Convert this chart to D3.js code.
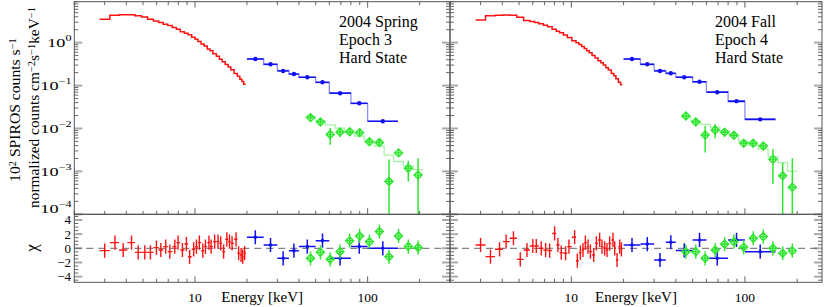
<!DOCTYPE html>
<html><head><meta charset="utf-8">
<script src="https://cdn.jsdelivr.net/npm/d3@7"></script>
<style>
body{margin:0;background:#fff}
text{font-family:"Liberation Serif","Times New Roman",serif;fill:#000}
</style>
</head><body>
<svg id="c" width="830" height="307" xmlns="http://www.w3.org/2000/svg"></svg>
<script>
// ---------------- DATA ----------------
const xTickLabels = ["10", "100"];
const yTickExps = [0, -1, -2, -3, -4];
const chiTickLabels = [4, 2, 0, -2, -4];
const titles3 = ["2004 Spring", "Epoch 3", "Hard State"];
const titles4 = ["2004 Fall", "Epoch 4", "Hard State"];

// Epoch 3 (left)
const redE3 = [3.0,3.44,3.84,4.29,4.69,5.12,5.52,5.98,6.34,6.77,7.15,7.64,7.98,8.46,8.92,9.31,9.83,10.2,10.6,11.1,11.5,12.05,12.4,13.0,13.6,14.1,14.65,15.3,15.85,16.4,17.3,17.9,18.5,18.9,19.4];
const redF3 = [3.5,4.35,4.49,4.49,4.26,3.95,3.5,3.2,2.95,2.7,2.5,2.25,2.05,1.8,1.65,1.52,1.33,1.2,1.07,0.93,0.83,0.71,0.65,0.55,0.48,0.41,0.36,0.31,0.27,0.235,0.19,0.165,0.14,0.125,0.107];
const redChi3 = [-0.33,0.8,-0.24,0.8,-0.57,-0.57,-0.57,0.1,-0.24,0.24,-0.47,0.24,0.8,-0.24,0.6,-1.2,-0.14,0.24,0.8,-0.33,0.24,0.8,0.24,0.94,0.94,0.7,-0.47,1.27,0.94,0.7,1.27,-0.7,-0.94,-1.18,-0.7];

const blueEdges = [20,25,30,35,40,50,60,80,100,150];
const blueF3 = [0.417,0.314,0.219,0.186,0.156,0.119,0.066,0.0386,0.0147];
const blueM3 = [0.41,0.31,0.225,0.185,0.155,0.117,0.068,0.038,0.0147];
const blueErr3 = [0.012,0.01,0.008,0.007,0.006,0.005,0.004,0.0025,0.0012];
const blueChi3 = [1.56,0.47,-1.42,-0.33,0.24,1.08,-1.42,0.24,0];

const greenE3 = [46.7,53.3,60.7,69.2,78.7,89.9,102.4,117,133,151,172,196];
const greenF3 = [0.0179,0.0142,0.0072,0.0083,0.0084,0.0080,0.0049,0.0047,0.00058,0.0027,0.00118,0.00082];
const greenErr3 = [0.0015,0.0015,0.003,0.002,0.001,0.001,0.0007,0.0006,0.0013,0.0005,0.0006,0.0012];
const greenM3 = [0.0190,0.0150,0.0121,0.0102,0.0080,0.0066,0.0050,0.0039,0.0024,0.0017,0.00135,0.0011];
const greenChi3 = [-1.42,-0.57,-1.56,-0.47,1.08,1.75,0.94,2.36,-1.18,1.75,0.24,0.1];

// Epoch 4 (right)
const redE4 = [3.0,3.42,3.86,4.21,4.64,5.08,5.55,6.0,6.28,6.71,7.11,7.5,8.01,8.37,8.75,9.27,9.69,10.45,10.83,11.27,11.67,12.05,12.48,12.88,13.46,13.94,14.56,15.02,15.56,16.05,16.63,17.38,17.78,18.34,19.0,19.43];
const redF4 = [3.38,4.26,4.35,4.4,4.35,3.9,3.3,3.1,2.95,2.75,2.55,2.36,2.05,1.85,1.7,1.5,1.32,1.1,1.0,0.9,0.81,0.73,0.65,0.58,0.5,0.44,0.38,0.34,0.3,0.26,0.23,0.19,0.17,0.145,0.12,0.105];
const redChi4 = [0.47,-1.18,-0.14,0.94,1.42,-1.56,-0.24,0.33,0.33,0,-0.24,-0.33,2.1,0.47,-0.61,-0.7,0.24,1.56,-1.75,-0.61,-0.24,0.8,0.24,-0.47,-0.94,0.7,1.18,0.24,0,-0.24,0.7,1.18,0,-1.65,0.24,-0.14];

const blueF4 = [0.417,0.314,0.219,0.194,0.156,0.123,0.0697,0.0433,0.0163];
const blueM4 = [0.41,0.31,0.225,0.19,0.157,0.12,0.072,0.042,0.0165];
const blueErr4 = [0.012,0.01,0.008,0.007,0.006,0.005,0.004,0.0025,0.0012];
const blueChi4 = [0.47,0.6,-1.65,0.85,-0.3,1.18,-1.42,1.18,-0.47];

const greenE4 = [45.7,52.1,59,67.4,76.4,86.4,98.4,111.7,127.6,145,165,187.5];
const greenF4 = [0.0196,0.0142,0.00706,0.00923,0.00815,0.00694,0.00452,0.00452,0.00391,0.00191,0.000794,0.000426];
const greenErr4 = [0.0015,0.0015,0.0043,0.0033,0.0010,0.0010,0.0007,0.0007,0.0006,0.0014,0.0008,0.0016];
const greenM4 = [0.0190,0.0150,0.0125,0.0107,0.0088,0.0068,0.0050,0.0041,0.0033,0.0022,0.0016,0.0010];
const greenChi4 = [-0.47,-0.47,-1.42,-0.24,0.57,0.94,0.14,1.42,1.65,0,-0.7,-0.33];

// ---------------- LAYOUT ----------------
const svg = d3.select('#c');
const topY0 = 1.7, topY1 = 214.3, botY1 = 282.3;
const RED = "#ff1010", BLUE = "#1010f0", BLUEM = "#8c8cff", GREEN = "#2ee62e", GREENM = "#a8f2a8";
const FRAME = "#555", TICK = "#666", MAJ = "#aaa";

const y = d3.scaleLog().domain([1e-4, 9]).range([topY1, topY0]);
const yc = d3.scaleLinear().domain([-4.8, 4.8]).range([botY1, topY1]);

const panels = [
  {x0:74.3, x1:450, dom:[2,300], redE:redE3, redF:redF3, redChi:redChi3, blueF:blueF3, blueM:blueM3, blueErr:blueErr3, blueChi:blueChi3,
   greenE:greenE3, greenF:greenF3, greenErr:greenErr3, greenM:greenM3, greenChi:greenChi3, titles:titles3, tx:339, yLabels:true},
  {x0:450, x1:822, dom:[2,278], redE:redE4, redF:redF4, redChi:redChi4, blueF:blueF4, blueM:blueM4, blueErr:blueErr4, blueChi:blueChi4,
   greenE:greenE4, greenF:greenF4, greenErr:greenErr4, greenM:greenM4, greenChi:greenChi4, titles:titles4, tx:715, yLabels:false}
];

function edgesFromCenters(c){
  const e=[c[0]*c[0]/Math.sqrt(c[0]*c[1])];
  for(let i=0;i<c.length-1;i++) e.push(Math.sqrt(c[i]*c[i+1]));
  const n=c.length; e.push(c[n-1]*c[n-1]/Math.sqrt(c[n-2]*c[n-1]));
  return e;
}
function stepPath(x, yy, edges, vals){
  let p=`M${x(edges[0])},${yy(vals[0])}`;
  for(let i=0;i<vals.length;i++){ if(i>0) p+=`V${yy(vals[i])}`; p+=`H${x(edges[i+1])}`; }
  return p;
}
function diamond(g, cx, cy, r, col){
  g.append('path').attr('d',`M${cx},${cy-r}L${cx+r},${cy}L${cx},${cy+r}L${cx-r},${cy}Z M${cx-r},${cy}H${cx+r} M${cx},${cy-r}V${cy+r}`)
   .attr('fill','none').attr('stroke',col).attr('stroke-width',1.4);
}

const defs = svg.append('defs');

panels.forEach((P, pi) => {
  const x = d3.scaleLog().domain(P.dom).range([P.x0, P.x1]);
  defs.append('clipPath').attr('id','ct'+pi).append('rect').attr('x',P.x0).attr('y',topY0).attr('width',P.x1-P.x0).attr('height',topY1-topY0);
  defs.append('clipPath').attr('id','cb'+pi).append('rect').attr('x',P.x0).attr('y',topY1).attr('width',P.x1-P.x0).attr('height',botY1-topY1);

  // ---------- ticks ----------
  const tg = svg.append('g');
  x.ticks().forEach(v => {
    const lg = Math.abs(Math.log10(v)-Math.round(Math.log10(v)))<1e-9;
    const L = lg?6:3.5, px = x(v);
    [[topY0,1],[topY1,-1],[botY1,-1]].forEach(([yy,dir])=>{
      tg.append('line').attr('x1',px).attr('x2',px).attr('y1',yy).attr('y2',yy+dir*L).attr('stroke',TICK).attr('stroke-width',1);
    });
  });
  y.ticks().forEach(v => {
    const lg = Math.abs(Math.log10(v)-Math.round(Math.log10(v)))<1e-9;
    const L = lg?8:4, py = y(v);
    [[P.x0,1],[P.x1,-1]].forEach(([xx,dir])=>{
      tg.append('line').attr('x1',xx).attr('x2',xx+dir*L).attr('y1',py).attr('y2',py)
        .attr('stroke',lg?MAJ:TICK).attr('stroke-width',lg?2:1);
    });
  });
  d3.range(-4.5, 4.51, 0.5).forEach(v => {
    const major = Math.abs(v)%2===0;
    const L = major?8:4, py = yc(v);
    [[P.x0,1],[P.x1,-1]].forEach(([xx,dir])=>{
      tg.append('line').attr('x1',xx).attr('x2',xx+dir*L).attr('y1',py).attr('y2',py)
        .attr('stroke',major?MAJ:TICK).attr('stroke-width',major?2:1);
    });
  });

  // ---------- top panel ----------
  const gt = svg.append('g').attr('clip-path',`url(#ct${pi})`);
  const redEdges = edgesFromCenters(P.redE);
  gt.append('path').attr('d', stepPath(x, y, redEdges, P.redF)).attr('fill','none').attr('stroke',RED).attr('stroke-width',1.5);

  gt.append('path').attr('d', stepPath(x, y, blueEdges, P.blueM)).attr('fill','none').attr('stroke',BLUEM).attr('stroke-width',1.3);
  P.blueF.forEach((f,i)=>{
    const xa=x(blueEdges[i]), xb=x(blueEdges[i+1]), xm=x(Math.sqrt(blueEdges[i]*blueEdges[i+1]));
    gt.append('line').attr('x1',xa).attr('x2',xb).attr('y1',y(f)).attr('y2',y(f)).attr('stroke',BLUE).attr('stroke-width',1.6);
    gt.append('line').attr('x1',xm).attr('x2',xm).attr('y1',y(f-P.blueErr[i])).attr('y2',y(f+P.blueErr[i])).attr('stroke',BLUE).attr('stroke-width',1.4);
    gt.append('circle').attr('cx',xm).attr('cy',y(f)).attr('r',2.2).attr('fill',BLUE);
  });

  const gEdges = edgesFromCenters(P.greenE);
  gt.append('path').attr('d', stepPath(x, y, gEdges, P.greenM)).attr('fill','none').attr('stroke',GREENM).attr('stroke-width',1.3);
  P.greenF.forEach((f,i)=>{
    const xm=x(P.greenE[i]);
    gt.append('line').attr('x1',xm).attr('x2',xm).attr('y1',y(Math.max(f-P.greenErr[i],1e-7))).attr('y2',y(f+P.greenErr[i])).attr('stroke',GREEN).attr('stroke-width',1.5);
    diamond(gt, xm, y(f), 4, GREEN);
  });

  // ---------- residual panel ----------
  const gb = svg.append('g').attr('clip-path',`url(#cb${pi})`);
  gb.append('line').attr('x1',P.x0).attr('x2',P.x1).attr('y1',yc(0)).attr('y2',yc(0))
    .attr('stroke','#666').attr('stroke-width',1).attr('stroke-dasharray','7,5');
  P.redChi.forEach((c,i)=>{
    const xm=x(P.redE[i]);
    gb.append('line').attr('x1',x(redEdges[i])).attr('x2',x(redEdges[i+1])).attr('y1',yc(c)).attr('y2',yc(c)).attr('stroke',RED).attr('stroke-width',1.4);
    gb.append('line').attr('x1',xm).attr('x2',xm).attr('y1',yc(c-1)).attr('y2',yc(c+1)).attr('stroke',RED).attr('stroke-width',1.4);
  });
  P.blueChi.forEach((c,i)=>{
    const xm=x(Math.sqrt(blueEdges[i]*blueEdges[i+1]));
    gb.append('line').attr('x1',x(blueEdges[i])).attr('x2',x(blueEdges[i+1])).attr('y1',yc(c)).attr('y2',yc(c)).attr('stroke',BLUE).attr('stroke-width',1.5);
    gb.append('line').attr('x1',xm).attr('x2',xm).attr('y1',yc(c-1)).attr('y2',yc(c+1)).attr('stroke',BLUE).attr('stroke-width',1.5);
    gb.append('circle').attr('cx',xm).attr('cy',yc(c)).attr('r',1.8).attr('fill',BLUE);
  });
  P.greenChi.forEach((c,i)=>{
    const xm=x(P.greenE[i]);
    gb.append('line').attr('x1',xm).attr('x2',xm).attr('y1',yc(c-1)).attr('y2',yc(c+1)).attr('stroke',GREEN).attr('stroke-width',1.4);
    diamond(gb, xm, yc(c), 4, GREEN);
  });

  // ---------- frames ----------
  svg.append('rect').attr('x',P.x0).attr('y',topY0).attr('width',P.x1-P.x0).attr('height',topY1-topY0).attr('fill','none').attr('stroke',FRAME).attr('stroke-width',1);
  svg.append('rect').attr('x',P.x0).attr('y',topY1).attr('width',P.x1-P.x0).attr('height',botY1-topY1).attr('fill','none').attr('stroke',FRAME).attr('stroke-width',1);

  // ---------- x labels ----------
  [10,100].forEach((v,i)=>{
    svg.append('text').attr('x',x(v)).attr('y',302).attr('text-anchor','middle').attr('font-size',13.5).text(xTickLabels[i]);
  });
  svg.append('text').attr('x',(P.x0+P.x1)/2).attr('y',302).attr('text-anchor','middle').attr('font-size',15).text('Energy [keV]');

  // ---------- titles ----------
  P.titles.forEach((t,i)=>{
    svg.append('text').attr('x',P.tx).attr('y',26.5+i*18.3).attr('font-size',16).text(t);
  });

  // ---------- y labels ----------
  if(P.yLabels){
    yTickExps.forEach((e,i)=>{
      const py = y(Math.pow(10,e));
      const base = (i===yTickExps.length-1) ? py-1 : py+4.5;
      const t = svg.append('text').attr('transform',`translate(71.5,${base}) scale(1.35,1)`).attr('text-anchor','end').attr('font-size',13.5);
      t.append('tspan').text('10');
      t.append('tspan').attr('dy',-6).attr('font-size',9).text(e<0?('\u2212'+(-e)):String(e));
    });
    chiTickLabels.forEach(v=>{
      svg.append('text').attr('x',71).attr('y',yc(v)+4.5).attr('text-anchor','end').attr('font-size',13).text(v<0?('\u2212'+(-v)):String(v));
    });
  }
});

// ---------- rotated axis titles ----------
function rotLabel(xb, cy, parts, target, fs){
  const g = svg.append('g').attr('transform',`translate(${xb},${cy}) rotate(-90)`);
  const gi = g.append('g');
  const t = gi.append('text').attr('x',0).attr('y',0).attr('text-anchor','middle').attr('font-size',fs);
  parts.forEach(p=>{
    const ts = t.append('tspan').text(p[0]);
    if(p[1]) ts.attr('font-size',fs*0.68).attr('baseline-shift','40%');
  });
  const w = t.node().getBBox().width;
  if(target) gi.attr('transform',`scale(${target/w},1)`);
}
rotLabel(20, 110, [["10"],["2",1],[" SPIROS counts s"],["\u22121",1]], 144, 15);
rotLabel(39, 107.5, [["normalized counts cm"],["\u22122",1],["s"],["\u22121",1],["keV"],["\u22121",1]], 201, 15);
rotLabel(37, 248, [["\u03c7"]], null, 17);
</script>
</body></html>
